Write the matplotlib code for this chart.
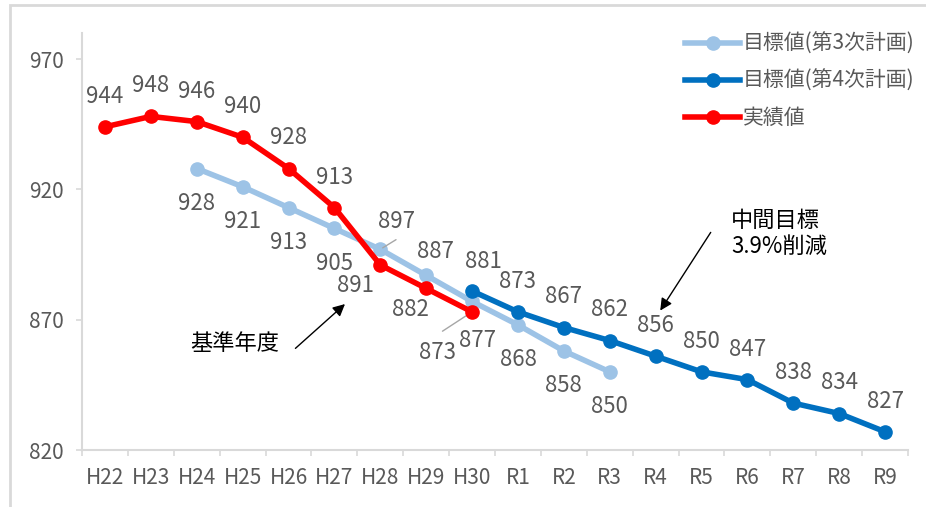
import numpy as np
import matplotlib.pyplot as plt
from matplotlib.patches import Rectangle

plt.rcParams['font.family'] = ['Noto Sans CJK JP', 'DejaVu Sans']

years = ['H22', 'H23', 'H24', 'H25', 'H26', 'H27', 'H28', 'H29', 'H30',
         'R1', 'R2', 'R3', 'R4', 'R5', 'R6', 'R7', 'R8', 'R9']

# 目標値(第3次計画) H24..R3
plan3_idx = list(range(2, 12))
plan3 = [928, 921, 913, 905, 897, 887, 877, 868, 858, 850]
# 目標値(第4次計画) H30..R9
plan4_idx = list(range(8, 18))
plan4 = [881, 873, 867, 862, 856, 850, 847, 838, 834, 827]
# 実績値 H22..H30
actual_idx = list(range(0, 9))
actual = [944, 948, 946, 940, 928, 913, 891, 882, 873]

c3 = '#9DC3E6'
c4 = '#0070C0'
cr = '#FF0000'
tc = '#595959'
ax_col = '#D9D9D9'

fig = plt.figure(figsize=(9.26, 5.07), dpi=100)
ax = fig.add_axes([0.0886, 0.1124, 0.892, 0.8225])

ax.plot(plan3_idx, plan3, color=c3, lw=4, marker='o', ms=9.5, label='目標値(第3次計画)', zorder=2)
ax.plot(plan4_idx, plan4, color=c4, lw=4, marker='o', ms=9.5, label='目標値(第4次計画)', zorder=3)
ax.plot(actual_idx, actual, color=cr, lw=4, marker='o', ms=9.5, label='実績値', zorder=4)

fs = 16
def lab(x, y, dx, dy):
    ax.annotate(str(y), (x, y), xytext=(dx, dy), textcoords='offset points',
                ha='center', va='center', fontsize=fs, color=tc, zorder=6)

# 実績値 labels
for i, (x, v) in enumerate(zip(actual_idx, actual)):
    if i < 6:
        lab(x, v, 0, 22)
lab(actual_idx[6], actual[6], -18, -15)
lab(actual_idx[7], actual[7], -11, -15)
lab(actual_idx[8], actual[8], -25, -29)
ax.annotate('', xy=(actual_idx[8], actual[8]), xytext=(-23, -15), textcoords='offset points',
            arrowprops=dict(arrowstyle='-', color='#A6A6A6', lw=1))

# 第3次 labels
for i, (x, v) in enumerate(zip(plan3_idx, plan3)):
    if i < 4 or i >= 7:
        lab(x, v, 0, -25)
lab(plan3_idx[4], plan3[4], 12, 20)
ax.annotate('', xy=(plan3_idx[4], plan3[4]), xytext=(13, 8), textcoords='offset points',
            arrowprops=dict(arrowstyle='-', color='#A6A6A6', lw=1))
lab(plan3_idx[5], plan3[5], 7, 17)
lab(plan3_idx[6], plan3[6], 4, -28)

# 第4次 labels
for i, (x, v) in enumerate(zip(plan4_idx, plan4)):
    if i == 0:
        lab(x, v, 8, 21)
    else:
        lab(x, v, 0, 22)

ax.set_xlim(-0.5, 17.5)
ax.set_ylim(820, 980)
ax.set_yticks([820, 870, 920, 970])
ax.set_xticks(range(len(years)))
ax.set_xticklabels(years)
ax.set_xticks(np.arange(-0.5, 18, 1), minor=True)
ax.tick_params(axis='x', which='major', length=0, pad=12, labelsize=15, labelcolor=tc)
ax.tick_params(axis='x', which='minor', length=4, color=ax_col, width=1.2)
ax.tick_params(axis='y', length=4, color=ax_col, width=1.2, pad=9, labelsize=15, labelcolor=tc)
for s in ['top', 'right']:
    ax.spines[s].set_visible(False)
for s in ['left', 'bottom']:
    ax.spines[s].set_color(ax_col)
    ax.spines[s].set_linewidth(1.5)

leg = ax.legend(loc='upper right', bbox_to_anchor=(1.023, 1.03), frameon=False, fontsize=15,
                handlelength=2.6, handletextpad=0.15, labelspacing=0.72, labelcolor=tc,
                borderaxespad=0.2)

# annotations
ax.text(3.8, 861, '基準年度', ha='right', va='center', fontsize=16, color='black')
ax.annotate('', xy=(5.23, 876), xytext=(4.15, 859), textcoords='data',
            arrowprops=dict(arrowstyle='-|>', color='black', lw=1, mutation_scale=18,
                            shrinkA=0, shrinkB=0))
ax.annotate('', xy=(12.1, 873.5), xytext=(13.2, 903.5), textcoords='data',
            arrowprops=dict(arrowstyle='-|>', color='black', lw=1, mutation_scale=18,
                            shrinkA=0, shrinkB=0))
ax.text(13.65, 908, '中間目標', ha='left', va='center', fontsize=16, color='black')
ax.text(13.65, 898, '3.9%削減', ha='left', va='center', fontsize=16, color='black')

fig.patches.append(Rectangle((10 / 926, -0.01), 1.0, 1 - 5 / 507 + 0.01, transform=fig.transFigure,
                             fill=False, edgecolor=ax_col, lw=2))

fig.savefig('out.png', dpi=100)
